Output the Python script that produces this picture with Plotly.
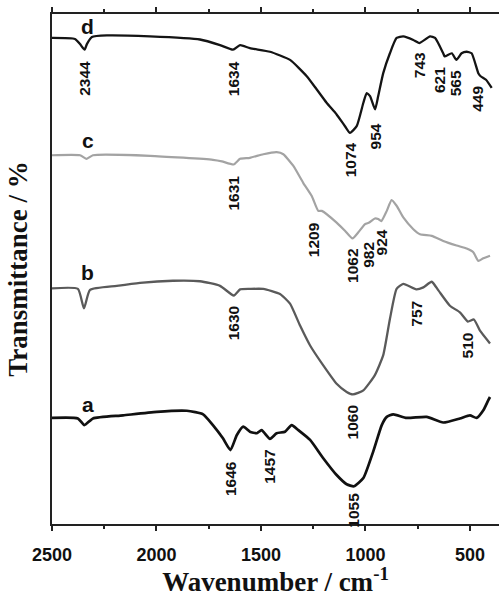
import numpy as np
import plotly.graph_objects as go

# FTIR spectra (stacked transmittance, arbitrary offset units)
wn_a = [2500, 2376, 2345, 2304, 2160, 1999, 1855, 1777, 1730, 1682, 1646, 1616, 1585, 1553,
        1520, 1497, 1457, 1425, 1385, 1353, 1321, 1265, 1202, 1138, 1090, 1055, 1010, 963,
        922, 898, 867, 803, 707, 628, 548, 500, 468, 436, 412, 404]
t_a = [20.8, 20.7, 19.4, 20.7, 21.3, 22.0, 22.2, 21.5, 19.4, 16.8, 14.5, 17.4, 19.1, 18.1,
       17.8, 18.4, 16.7, 17.8, 18.1, 19.4, 18.4, 16.5, 12.9, 9.6, 7.8, 7.4, 9.0, 14.2,
       19.4, 21.0, 21.5, 20.8, 21.0, 19.9, 20.7, 21.3, 20.8, 22.3, 24.3, 24.9]

wn_b = [2500, 2376, 2347, 2318, 2190, 2079, 1921, 1792, 1696, 1630, 1600, 1553, 1489, 1409,
        1361, 1313, 1265, 1202, 1138, 1090, 1060, 1010, 955, 915, 883, 851, 819, 757, 723,
        683, 651, 596, 548, 510, 481, 452, 404]
t_b = [46.2, 46.1, 42.3, 45.9, 46.7, 47.3, 47.7, 47.6, 46.7, 44.8, 46.0, 46.1, 46.1, 45.1,
       43.2, 38.9, 35.0, 31.1, 27.5, 25.9, 25.4, 26.2, 29.2, 33.1, 40.2, 46.1, 47.1, 46.0, 46.4,
       47.5, 45.8, 42.8, 41.5, 39.7, 40.1, 37.9, 35.4]

wn_c = [2500, 2366, 2334, 2304, 2031, 1730, 1687, 1631, 1600, 1553, 1489, 1425, 1393, 1345,
        1298, 1257, 1226, 1209, 1138, 1098, 1062, 1034, 1002, 982, 955, 939, 924, 898, 875,
        851, 819, 771, 739, 683, 628, 564, 516, 484, 460, 436, 404]
t_c = [72.3, 72.3, 71.6, 72.3, 72.2, 71.4, 71.1, 70.5, 71.6, 71.8, 72.5, 72.9, 72.5, 70.2,
       66.9, 64.3, 61.4, 61.4, 59.1, 57.5, 56.0, 57.2, 58.8, 59.1, 59.9, 59.8, 59.4, 61.4, 63.5,
       62.4, 60.1, 57.8, 56.8, 56.5, 55.5, 54.6, 54.0, 53.3, 51.6, 52.1, 52.6]

wn_d = [2500, 2390, 2366, 2344, 2333, 2309, 2237, 2031, 1792, 1696, 1634, 1600, 1553, 1457,
        1361, 1281, 1233, 1186, 1138, 1098, 1074, 1042, 1010, 994, 978, 954, 939, 915, 883,
        851, 819, 771, 743, 691, 667, 628, 621, 587, 565, 540, 516, 492, 460, 449, 423, 396]
t_d = [95.3, 95.1, 94.1, 93.0, 94.1, 95.5, 95.8, 95.6, 95.0, 93.9, 93.0, 93.9, 93.3, 92.6,
       91.0, 87.8, 85.2, 82.6, 80.3, 78.0, 76.7, 78.0, 82.6, 84.5, 83.9, 81.3, 83.9, 88.4, 92.3,
       95.3, 95.6, 94.9, 94.3, 95.6, 95.3, 92.3, 91.7, 92.3, 91.0, 92.3, 92.6, 92.3, 88.4, 87.8,
       87.1, 85.5]

# Band assignments (cm-1) labelled on each spectrum
peaks_a = [1646, 1457, 1055]
peaks_b = [1630, 1060, 757, 510]
peaks_c = [1631, 1209, 1062, 982, 924]
peaks_d = [2344, 1634, 1074, 954, 743, 621, 565, 449]

series = [
    ("a", wn_a, t_a, peaks_a, "#111111", 2.7),
    ("b", wn_b, t_b, peaks_b, "#5a5a5a", 2.3),
    ("c", wn_c, t_c, peaks_c, "#a3a3a3", 2.2),
    ("d", wn_d, t_d, peaks_d, "#141414", 2.3),
]

# label gap below the curve (px) and horizontal nudges
gap_override = {("d", 954): 12, ("c", 982): 17, ("c", 924): 6, ("a", 1055): 4,
                ("d", 743): 7, ("d", 565): 8, ("d", 449): 8, ("d", 1074): 8}
xshift_override = {("d", 621): -5, ("d", 449): -3, ("c", 1209): -8, ("c", 982): -1}
letter_lift = {"a": 13, "b": 16, "c": 15, "d": 11}

lab_font = dict(family="Liberation Sans, Arial", size=15.5, color="#111111", weight="bold")

fig = go.Figure()
annotations = []
for name, wn, t, peaks, color, width in series:
    fig.add_trace(go.Scatter(x=wn, y=t, mode="lines",
                             line=dict(color=color, width=width, shape="spline", smoothing=0.5),
                             showlegend=False, hoverinfo="skip"))
    wn_arr = np.array(wn)[::-1]
    t_arr = np.array(t)[::-1]
    for p in peaks:
        yv = float(np.interp(p, wn_arr, t_arr))
        annotations.append(dict(x=p, y=yv, xref="x", yref="y", text=str(p), textangle=-90,
                                showarrow=False, yanchor="top", xanchor="center",
                                yshift=-gap_override.get((name, p), 9),
                                xshift=xshift_override.get((name, p), 0),
                                font=lab_font))
    annotations.append(dict(x=2330, y=t[0], xref="x", yref="y", text=name, showarrow=False,
                            yanchor="middle", xanchor="center", yshift=letter_lift[name],
                            font=dict(family="Liberation Sans, Arial", size=21,
                                      color="#111111", weight="bold")))

fig.update_layout(
    width=499, height=597,
    margin=dict(l=52, r=0, t=14, b=71),
    paper_bgcolor="white", plot_bgcolor="white",
    annotations=annotations,
    xaxis=dict(range=[2500, 361], showline=True, linecolor="#222222", linewidth=2,
               mirror="ticks", ticks="outside", ticklen=5, tickwidth=2, tickcolor="#222222",
               tick0=500, dtick=500, showgrid=False, zeroline=False,
               minor=dict(dtick=250, ticks="outside", ticklen=3, tickwidth=2, tickcolor="#222222"),
               tickfont=dict(family="Liberation Sans, Arial", size=18, color="#111111", weight="bold"),
               ticklabelstandoff=8,
               title=dict(text="Wavenumber / cm<sup>-1</sup>", standoff=14,
                          font=dict(family="Liberation Serif, Times New Roman", size=27,
                                    color="#111111", weight="bold"))),
    yaxis=dict(range=[0, 100], showline=True, linecolor="#222222", linewidth=2,
               ticks="", showticklabels=False, showgrid=False, zeroline=False,
               title=dict(text="Transmittance / %", standoff=15,
                          font=dict(family="Liberation Serif, Times New Roman", size=27,
                                    color="#111111", weight="bold"))),
)

fig.write_html("out.html")
